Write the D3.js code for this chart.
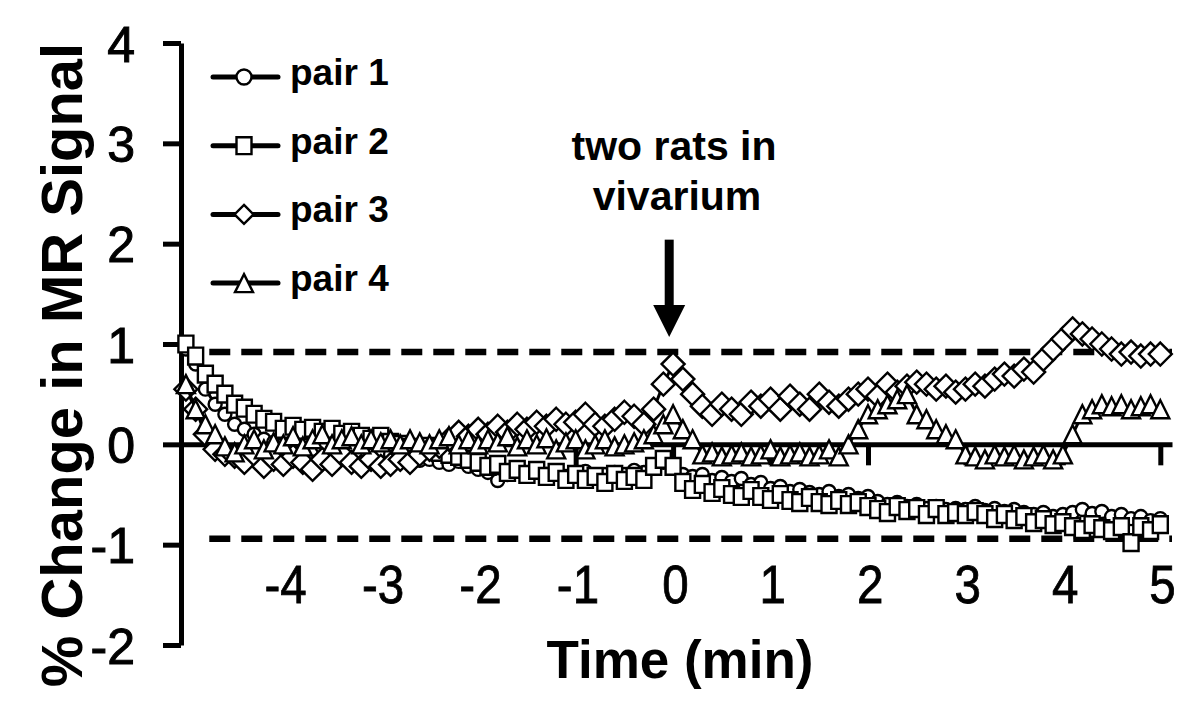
<!DOCTYPE html>
<html>
<head>
<meta charset="utf-8">
<script src="https://cdn.jsdelivr.net/npm/d3@7"></script>
<style>
  html, body { margin: 0; padding: 0; background: #fff; }
  svg { display: block; }
  text { font-family: "Liberation Sans", Arial, Helvetica, sans-serif; fill: #000; }
</style>
</head>
<body>
<svg id="chart" width="1200" height="720"></svg>
<script>
// ---------------- DATA ----------------
const times = [
  -5.0, -4.9, -4.8, -4.7, -4.6, -4.5, -4.4, -4.3, -4.2, -4.1,
  -4.0, -3.9, -3.8, -3.7, -3.6, -3.5, -3.4, -3.3, -3.2, -3.1,
  -3.0, -2.9, -2.8, -2.7, -2.6, -2.5, -2.4, -2.3, -2.2, -2.1,
  -2.0, -1.9, -1.8, -1.7, -1.6, -1.5, -1.4, -1.3, -1.2, -1.1,
  -1.0, -0.9, -0.8, -0.7, -0.6, -0.5, -0.4, -0.3, -0.2, -0.1,
   0.0,  0.1,  0.2,  0.3,  0.4,  0.5,  0.6,  0.7,  0.8,  0.9,
   1.0,  1.1,  1.2,  1.3,  1.4,  1.5,  1.6,  1.7,  1.8,  1.9,
   2.0,  2.1,  2.2,  2.3,  2.4,  2.5,  2.6,  2.7,  2.8,  2.9,
   3.0,  3.1,  3.2,  3.3,  3.4,  3.5,  3.6,  3.7,  3.8,  3.9,
   4.0,  4.1,  4.2,  4.3,  4.4,  4.5,  4.6,  4.7,  4.8,  4.9,
   5.0
];

const pair1 = [
  0.95, 0.8, 0.55, 0.4, 0.3, 0.2, 0.15, 0.1, 0.05, 0.02,
  0.0, -0.02, 0.0, -0.05, -0.03, -0.06, -0.08, -0.05, -0.1, -0.08,
  -0.12, -0.1, -0.14, -0.12, -0.16, -0.15, -0.18, -0.2, -0.17, -0.22,
  -0.25, -0.28, -0.36, -0.3, -0.27, -0.3, -0.26, -0.3, -0.28, -0.32,
  -0.3, -0.27, -0.32, -0.3, -0.28, -0.3, -0.26, -0.28, -0.22, -0.18,
  -0.22, -0.3, -0.32, -0.3, -0.36, -0.33, -0.37, -0.34, -0.4, -0.38,
  -0.44, -0.42, -0.47, -0.45, -0.48, -0.5, -0.47, -0.52, -0.5, -0.54,
  -0.52, -0.57, -0.6, -0.58, -0.62, -0.6, -0.64, -0.62, -0.65, -0.64,
  -0.65, -0.62, -0.66, -0.64, -0.67, -0.65, -0.68, -0.7, -0.68, -0.72,
  -0.7, -0.68, -0.65, -0.69, -0.67, -0.72, -0.7, -0.74, -0.72, -0.76,
  -0.74
];

const pair2 = [
  1.0, 0.88, 0.7, 0.6, 0.5, 0.4, 0.36, 0.3, 0.25, 0.22,
  0.15, 0.18, 0.14, 0.16, 0.12, 0.15, 0.1, 0.12, 0.08, 0.05,
  0.08, 0.02, 0.0, -0.03, -0.05, -0.02, -0.08, -0.1, -0.12, -0.15,
  -0.18, -0.22, -0.2, -0.28, -0.25, -0.3, -0.26, -0.32, -0.28, -0.35,
  -0.3, -0.35, -0.32, -0.38, -0.3, -0.36, -0.32, -0.35, -0.22, -0.15,
  -0.22, -0.38, -0.45, -0.4, -0.48, -0.44, -0.5, -0.52, -0.46, -0.52,
  -0.55, -0.5, -0.56, -0.58, -0.53, -0.58, -0.6, -0.56, -0.6, -0.58,
  -0.62, -0.65, -0.68, -0.62, -0.66, -0.64, -0.7, -0.64, -0.7, -0.68,
  -0.7, -0.67, -0.7, -0.74, -0.7, -0.75, -0.72, -0.78, -0.75, -0.8,
  -0.78, -0.82, -0.85, -0.8, -0.84, -0.86, -0.82, -0.98, -0.82, -0.86,
  -0.8
];

const pair3 = [
  0.55, 0.35, 0.1, -0.05, -0.1, -0.12, -0.18, -0.1, -0.22, -0.15,
  -0.2, -0.12, -0.18, -0.25, -0.15, -0.2, -0.1, -0.18, -0.22, -0.15,
  -0.22, -0.2, -0.15, -0.18, -0.1, -0.05, -0.02, 0.05, 0.12, 0.08,
  0.15, 0.1, 0.18, 0.12, 0.2, 0.15, 0.22, 0.18, 0.25, 0.2,
  0.22, 0.3, 0.2, 0.18, 0.25, 0.32, 0.28, 0.2, 0.35, 0.6,
  0.8, 0.65, 0.5, 0.38, 0.3, 0.4, 0.35, 0.3, 0.42, 0.38,
  0.45, 0.35, 0.48, 0.4, 0.35, 0.5, 0.42, 0.38, 0.45, 0.5,
  0.55, 0.48, 0.6, 0.52, 0.58, 0.62, 0.6, 0.55, 0.58, 0.52,
  0.55, 0.6, 0.58, 0.65, 0.7, 0.68, 0.75, 0.72, 0.85, 0.95,
  1.05, 1.15, 1.1, 1.05, 1.0, 0.95, 0.9, 0.92, 0.88, 0.9,
  0.9
];

const pair4 = [
  0.6, 0.35, 0.2, 0.1, -0.02, -0.08, 0.0, 0.05, -0.05, 0.02,
  0.0, 0.08, -0.02, 0.05, 0.1, 0.0, 0.05, 0.08, 0.0, 0.05,
  0.02, 0.05, 0.0, 0.05, 0.02, 0.0, 0.05, 0.08, 0.0, 0.05,
  0.0, 0.05, 0.02, 0.08, -0.02, 0.05, 0.0, 0.06, -0.05, 0.02,
  0.05, -0.05, 0.0, 0.05, -0.02, 0.0, 0.02, 0.05, 0.1, 0.2,
  0.3, 0.15, 0.05, -0.1, -0.08, -0.12, -0.1, -0.08, -0.12, -0.1,
  -0.05, -0.12, -0.1, -0.08, -0.12, -0.1, -0.05, -0.12, 0.0, 0.15,
  0.3, 0.35, 0.4, 0.45, 0.5, 0.3, 0.25, 0.15, 0.1, 0.05,
  -0.1, -0.12, -0.15, -0.1, -0.12, -0.1, -0.15, -0.12, -0.1, -0.15,
  -0.1, 0.1, 0.3, 0.35, 0.4, 0.38, 0.4, 0.35, 0.38, 0.4,
  0.35
];

const seriesNames = ["pair 1", "pair 2", "pair 3", "pair 4"];
const xTicks = [-4, -3, -2, -1, 0, 1, 2, 3, 4, 5];
const yTicks = [-2, -1, 0, 1, 2, 3, 4];
const thresholds = [0.92, -0.94];
const xTitle = "Time (min)";
const yTitle = "% Change in MR Signal";
const annotationLines = ["two rats in", "vivarium"];
const arrowTime = -0.04;
const arrowFrom = 2.04;   // y-value of arrow tail
const arrowTo = 1.07;     // y-value of arrow tip

// ---------------- SCALES ----------------
const svg = d3.select("#chart");
svg.append("rect").attr("width", 1200).attr("height", 720).attr("fill", "#fff");

const x = d3.scaleLinear().domain([-5.04, 5.12]).range([182, 1172]);
const y = d3.scaleLinear().domain([-2, 4]).range([645, 43]);

// ---------------- MARKER SHAPES ----------------
const diamondType = { draw(ctx, r) { ctx.moveTo(0, -r); ctx.lineTo(r, 0); ctx.lineTo(0, r); ctx.lineTo(-r, 0); ctx.closePath(); } };
const squareType = { draw(ctx, s) { const w = s / 2, h = s * 0.56; ctx.moveTo(-w, -h); ctx.lineTo(w, -h); ctx.lineTo(w, h); ctx.lineTo(-w, h); ctx.closePath(); } };
const triangleType = { draw(ctx, s) { const w = s / 2, h = s / 2; ctx.moveTo(0, -h); ctx.lineTo(w, h); ctx.lineTo(-w, h); ctx.closePath(); } };
const circleType = { draw(ctx, r) { ctx.moveTo(r, 0); ctx.arc(0, 0, r, 0, 2 * Math.PI); ctx.closePath(); } };

const markerDefs = [
  { type: circleType, size: 6.5 },
  { type: squareType, size: 15 },
  { type: diamondType, size: 11.5 },
  { type: triangleType, size: 18 }
];

// ---------------- THRESHOLD DASHED LINES ----------------
svg.append("g").selectAll("line").data(thresholds).join("line")
  .attr("x1", x(-4.76)).attr("x2", x(5.12))
  .attr("y1", d => y(d)).attr("y2", d => y(d))
  .attr("stroke", "#000").attr("stroke-width", 6.5)
  .attr("stroke-dasharray", "21,11");

// ---------------- AXES ----------------
const xAxis = svg.append("g")
  .attr("transform", `translate(0,${y(0)})`)
  .call(d3.axisBottom(x).tickValues(xTicks).tickSize(21).tickSizeOuter(0).tickFormat(d => String(d)));
xAxis.select(".domain").attr("stroke", "#000").attr("stroke-width", 5);
xAxis.selectAll(".tick line").attr("stroke", "#000").attr("stroke-width", 5);
xAxis.selectAll(".tick text")
  .attr("y", 159).attr("dy", 0).attr("x", 2)
  .attr("transform", "scale(0.88,1)")
  .style("font-size", "54px")
  .style("stroke", "#000").style("stroke-width", "0.8px")
  .style("font-family", "'Liberation Sans', Arial, sans-serif");

const yAxis = svg.append("g")
  .attr("transform", `translate(${x(-5.04) - 1},0)`)
  .call(d3.axisLeft(y).tickValues(yTicks).tickSize(18).tickPadding(28).tickSizeOuter(0).tickFormat(d => String(d)));
yAxis.select(".domain").attr("stroke", "#000").attr("stroke-width", 5);
yAxis.selectAll(".tick line").attr("stroke", "#000").attr("stroke-width", 5);
yAxis.selectAll(".tick text")
  .attr("dy", "0.36em")
  .style("font-size", "50px")
  .style("stroke", "#000").style("stroke-width", "1px")
  .style("font-family", "'Liberation Sans', Arial, sans-serif");

// ---------------- SERIES ----------------
const allSeries = [pair1, pair2, pair3, pair4];
const line = d3.line().x((d, i) => x(times[i])).y(d => y(d));

allSeries.forEach((vals, si) => {
  const g = svg.append("g");
  g.append("path").datum(vals)
    .attr("d", line)
    .attr("fill", "none").attr("stroke", "#000").attr("stroke-width", 3);
  const sym = d3.symbol().type(markerDefs[si].type).size(markerDefs[si].size);
  g.selectAll("path.m").data(vals).join("path")
    .attr("class", "m")
    .attr("d", sym)
    .attr("transform", (d, i) => `translate(${x(times[i])},${y(d)})`)
    .attr("fill", "#fff").attr("stroke", "#000").attr("stroke-width", 2.4);
});

// ---------------- LEGEND ----------------
const legend = svg.append("g").attr("transform", "translate(213,77)");
const legRows = legend.selectAll("g").data(seriesNames).join("g")
  .attr("transform", (d, i) => `translate(0,${i * 68.7})`);
legRows.append("line").attr("x1", 0).attr("x2", 65).attr("y1", 0).attr("y2", 0)
  .attr("stroke", "#000").attr("stroke-width", 5).attr("stroke-linecap", "round");
legRows.append("path")
  .attr("d", (d, i) => d3.symbol().type(markerDefs[i].type).size(i === 0 ? 7.5 : (i === 2 ? 9.5 : markerDefs[i].size))())
  .attr("transform", "translate(31,0)")
  .attr("fill", "#fff").attr("stroke", "#000").attr("stroke-width", 2.4);
legRows.append("text").attr("x", 77).attr("y", 8)
  .style("font-size", "37px").style("font-weight", "bold")
  .text(d => d);

// ---------------- ANNOTATION ----------------
svg.append("g").selectAll("text").data(annotationLines).join("text")
  .attr("x", (d, i) => 674 + i * 3).attr("y", (d, i) => 160 + i * 50)
  .attr("text-anchor", "middle")
  .style("font-size", "41px").style("font-weight", "bold")
  .text(d => d);

const ax = x(arrowTime), ay1 = y(arrowFrom), ay2 = y(arrowTo);
svg.append("line").attr("x1", ax).attr("x2", ax).attr("y1", ay1).attr("y2", ay2 - 28)
  .attr("stroke", "#000").attr("stroke-width", 9);
svg.append("path")
  .attr("d", `M${ax - 16},${ay2 - 32}L${ax + 16},${ay2 - 32}L${ax},${ay2}Z`)
  .attr("fill", "#000");

// ---------------- TITLES ----------------
svg.append("text").attr("x", 680).attr("y", 678).attr("text-anchor", "middle")
  .style("font-size", "53px").style("font-weight", "bold").text(xTitle);

svg.append("text").attr("transform", "translate(82,365) rotate(-90)").attr("text-anchor", "middle")
  .style("font-size", "58px").style("font-weight", "bold").text(yTitle);
</script>
</body>
</html>
